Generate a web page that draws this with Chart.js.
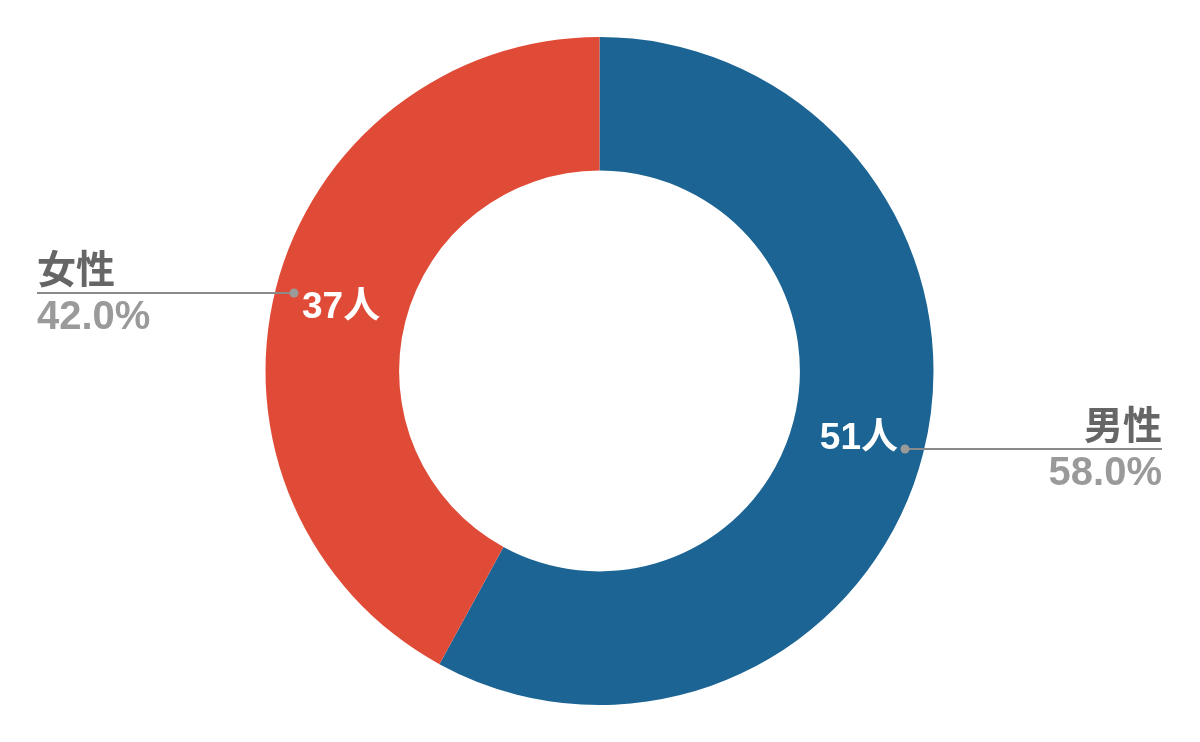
<!DOCTYPE html>
<html>
<head>
<meta charset="utf-8">
<script src="https://cdn.jsdelivr.net/npm/chart.js@4.4.1/dist/chart.umd.min.js"></script>
<style>
  html, body { margin: 0; padding: 0; background: #fff; }
  #wrap { width: 1200px; height: 742px; position: relative; }
</style>
</head>
<body>
<div id="wrap"><canvas id="chart"></canvas></div>
<script>
const labels = ['男性', '女性'];
const counts = [51, 37];
const percents = ['58.0%', '42.0%'];
const colors = ['#1b6493', '#e04b37'];

const FONT = "'Liberation Sans', Arial, 'Noto Sans CJK JP', sans-serif";

// callout: dot inside ring, line out to edge, category + percent
const callouts = {
  id: 'callouts',
  afterDatasetsDraw(chart) {
    const ctx = chart.ctx;
    const area = chart.chartArea;
    const meta = chart.getDatasetMeta(0);
    meta.data.forEach((arc, i) => {
      const p = arc.getProps(['x', 'y', 'startAngle', 'endAngle', 'innerRadius', 'outerRadius'], true);
      const mid = (p.startAngle + p.endAngle) / 2;
      const r = p.innerRadius + (p.outerRadius - p.innerRadius) * 0.86;
      const dx = p.x + Math.cos(mid) * r;
      const dy = p.y + Math.sin(mid) * r;
      const right = Math.cos(mid) > 0;
      const endX = right ? area.right : area.left;

      ctx.save();
      ctx.strokeStyle = '#8a8a8a';
      ctx.lineWidth = 2;
      ctx.beginPath();
      ctx.moveTo(dx, dy);
      ctx.lineTo(endX, dy);
      ctx.stroke();
      ctx.fillStyle = '#9a9a9a';
      ctx.beginPath();
      ctx.arc(dx, dy, 4.5, 0, Math.PI * 2);
      ctx.fill();

      // value inside ring
      ctx.fillStyle = '#fff';
      ctx.font = 'bold 37px ' + FONT;
      ctx.textBaseline = 'alphabetic';
      if (right) {
        ctx.textAlign = 'right';
        ctx.fillText(counts[i] + '人', dx - 7, dy);
      } else {
        ctx.textAlign = 'left';
        ctx.textBaseline = 'alphabetic';
        ctx.fillText(counts[i] + '人', dx + 8, dy + 25);
      }

      // category + percent outside
      ctx.textAlign = right ? 'right' : 'left';
      ctx.fillStyle = '#666';
      ctx.font = 'bold 39px ' + FONT;
      ctx.fillText(labels[i], endX, dy - 10);
      ctx.fillStyle = '#9a9a9a';
      ctx.font = 'bold 40px ' + FONT;
      ctx.fillText(percents[i], endX, dy + 36);
      ctx.restore();
    });
  }
};

new Chart(document.getElementById('chart'), {
  type: 'doughnut',
  data: {
    labels,
    datasets: [{ data: counts, backgroundColor: colors, borderWidth: 0 }]
  },
  options: {
    responsive: true,
    maintainAspectRatio: false,
    animation: false,
    cutout: '60%',
    layout: { padding: { top: 37, bottom: 37, left: 37, right: 38 } },
    plugins: { legend: { display: false }, tooltip: { enabled: false } }
  },
  plugins: [callouts]
});
</script>
</body>
</html>
